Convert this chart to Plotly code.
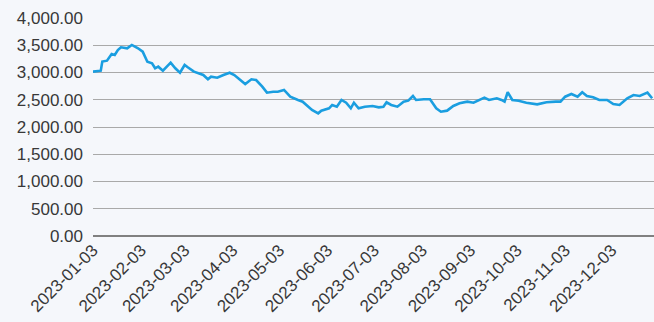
import plotly.graph_objects as go

dates = [
    "2023-01-03", "2023-01-08", "2023-01-09", "2023-01-12", "2023-01-15", "2023-01-17",
    "2023-01-19", "2023-01-21", "2023-01-25", "2023-01-28", "2023-01-30", "2023-02-01",
    "2023-02-04", "2023-02-07", "2023-02-10", "2023-02-12", "2023-02-14", "2023-02-17",
    "2023-02-22", "2023-02-25", "2023-02-28", "2023-03-03", "2023-03-05", "2023-03-09",
    "2023-03-15", "2023-03-18", "2023-03-20", "2023-03-24", "2023-03-28", "2023-04-01",
    "2023-04-04", "2023-04-08", "2023-04-11", "2023-04-15", "2023-04-18", "2023-04-22",
    "2023-04-25", "2023-04-29", "2023-05-02", "2023-05-06", "2023-05-10", "2023-05-15",
    "2023-05-18", "2023-05-24", "2023-05-26", "2023-05-28", "2023-05-30", "2023-06-04",
    "2023-06-06", "2023-06-09", "2023-06-12", "2023-06-15", "2023-06-18", "2023-06-20",
    "2023-06-23", "2023-06-27", "2023-07-02", "2023-07-06", "2023-07-09", "2023-07-11",
    "2023-07-14", "2023-07-18", "2023-07-22", "2023-07-25", "2023-07-28", "2023-07-30",
    "2023-08-04", "2023-08-08", "2023-08-12", "2023-08-15", "2023-08-19", "2023-08-23",
    "2023-08-27", "2023-09-01", "2023-09-05", "2023-09-09", "2023-09-12", "2023-09-15",
    "2023-09-20", "2023-09-23", "2023-09-25", "2023-09-27", "2023-09-30", "2023-10-04",
    "2023-10-09", "2023-10-16", "2023-10-22", "2023-10-28", "2023-10-31", "2023-11-03",
    "2023-11-07", "2023-11-11", "2023-11-14", "2023-11-17", "2023-11-21", "2023-11-25",
    "2023-11-30", "2023-12-04", "2023-12-08", "2023-12-13", "2023-12-17", "2023-12-21",
    "2023-12-26", "2023-12-29",
]

values = [
    3015, 3033, 3200, 3217, 3340, 3321,
    3413, 3462, 3444, 3505, 3474, 3444,
    3382, 3198, 3169, 3077, 3107, 3033,
    3180, 3077, 2996, 3138, 3095, 3015,
    2954, 2875, 2923, 2905, 2954, 2996,
    2954, 2850, 2789, 2875, 2862, 2740,
    2630, 2648, 2648, 2679, 2556, 2496,
    2465, 2312, 2281, 2251, 2300, 2343,
    2404, 2373, 2496, 2446, 2343, 2446,
    2343, 2373, 2386, 2361, 2373, 2453,
    2404, 2373, 2465, 2483, 2569, 2496,
    2508, 2508, 2343, 2281, 2300, 2386,
    2435, 2465, 2446, 2496, 2538, 2496,
    2527, 2496, 2465, 2637, 2496, 2483,
    2446, 2416, 2453, 2465, 2465, 2556,
    2606, 2556, 2637, 2569, 2545, 2496,
    2496, 2422, 2404, 2527, 2587, 2569,
    2630, 2527,
]

y_ticks = [0, 500, 1000, 1500, 2000, 2500, 3000, 3500, 4000]

fig = go.Figure()
fig.add_trace(go.Scatter(
    x=dates, y=values, mode="lines",
    line=dict(color="#1a9ee0", width=2.6),
    hoverinfo="skip",
))

font = dict(family="Liberation Sans, Arial, sans-serif", size=17, color="#383838")

fig.update_layout(
    width=654, height=322,
    margin=dict(l=93, r=0, t=18, b=86),
    paper_bgcolor="#f5f7fb",
    plot_bgcolor="rgba(0,0,0,0)",
    showlegend=False,
    font=font,
    xaxis=dict(
        type="date",
        range=["2023-01-03", "2023-12-30 05:00"],
        tick0="2023-01-03", dtick="M1",
        tickformat="%Y-%m-%d", tickangle=-45,
        showgrid=False, zeroline=False, showline=False,
        tickfont=font, ticks="",
    ),
    yaxis=dict(
        range=[0, 4000],
        tickvals=y_ticks, tickformat=",.2f",
        showgrid=True, gridcolor="#a9a9a9", gridwidth=1.2,
        zeroline=True, zerolinecolor="#808080", zerolinewidth=2,
        showline=False, tickfont=font, ticks="",
        ticklabelstandoff=9,
    ),
)

fig.write_html("out.html")
